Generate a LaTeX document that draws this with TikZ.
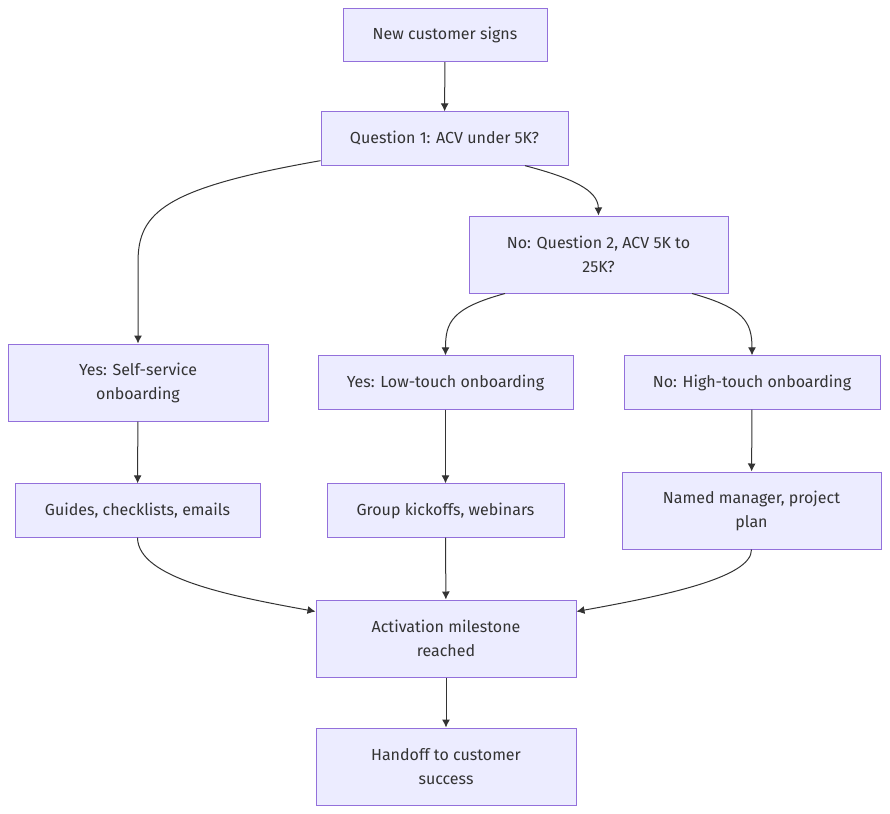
\documentclass[tikz,border=0pt]{standalone}
\usepackage{fontspec}
\setmainfont{Fira Sans}
\usepackage{tikz}
\usetikzlibrary{arrows.meta,calc,positioning}

\definecolor{boxfill}{HTML}{ECECFF}
\definecolor{boxline}{HTML}{9370DB}
\definecolor{ink}{HTML}{333333}

\begin{document}
\begin{tikzpicture}[x=0.75pt, y=-0.75pt,
  box/.style={draw=boxline, fill=boxfill, line width=0.75pt, align=center,
    text=ink, font=\fontsize{12}{18}\selectfont, inner sep=0pt, minimum height=40pt},
  tall/.style={box, minimum height=57.75pt},
  flow/.style={draw=ink, line width=0.75pt, -{Latex[length=6pt,width=6pt]}}]

\useasboundingbox (0,0) rectangle (890,814);

% Percorso di onboarding
\node[box, minimum width=153pt]     (start)  at (445,35)    {New customer signs};
\node[box, minimum width=185.25pt]  (q1)     at (444.5,138.5) {Question 1: ACV under 5K?};
\node[tall, minimum width=194.25pt] (q2)     at (598.5,254.5) {No: Question 2, ACV 5K to\\25K?};
\node[tall, minimum width=195pt]    (self)   at (138,382.5) {Yes: Self-service\\onboarding};
\node[box, minimum width=191.25pt]  (low)    at (445.5,382.5) {Yes: Low-touch onboarding};
\node[box, minimum width=192pt]     (high)   at (752,382.5) {No: High-touch onboarding};
\node[box, minimum width=183.75pt]  (guides) at (137.5,510.5) {Guides, checklists, emails};
\node[box, minimum width=177.75pt]  (group)  at (445.5,510.5) {Group kickoffs, webinars};
\node[tall, minimum width=194.25pt] (named)  at (751.5,510.5) {Named manager, project\\plan};
\node[tall, minimum width=195pt]    (act)    at (446,638.5) {Activation milestone\\reached};
\node[tall, minimum width=195pt]    (hand)   at (446,766.5) {Handoff to customer\\success};

\draw[flow] (start) -- (q1);
\draw[flow] ([yshift=3.75pt]q1.south west) .. controls (165,188) and (138,212) .. (138,262) -- (self.north);
\draw[flow] ($(q1.south)+(80.5,0)$) .. controls (572,178) and (598,190) .. (q2.north);
\draw[flow] ($(q2.south)+(-93.5,0)$) .. controls (452,308) and (445.5,322) .. (low.north);
\draw[flow] ($(q2.south)+(93.5,0)$) .. controls (744,308) and (752,322) .. (high.north);
\draw[flow] (self) -- (guides);
\draw[flow] (low) -- (group);
\draw[flow] (high) -- (named);
\draw[flow] (guides.south) .. controls (138,578) and (230,596) .. ([yshift=-9pt]act.north west);
\draw[flow] (group) -- (act);
\draw[flow] (named.south) .. controls (752,578) and (662,596) .. ([yshift=-9pt]act.north east);
\draw[flow] (act) -- (hand);

\end{tikzpicture}
\end{document}
